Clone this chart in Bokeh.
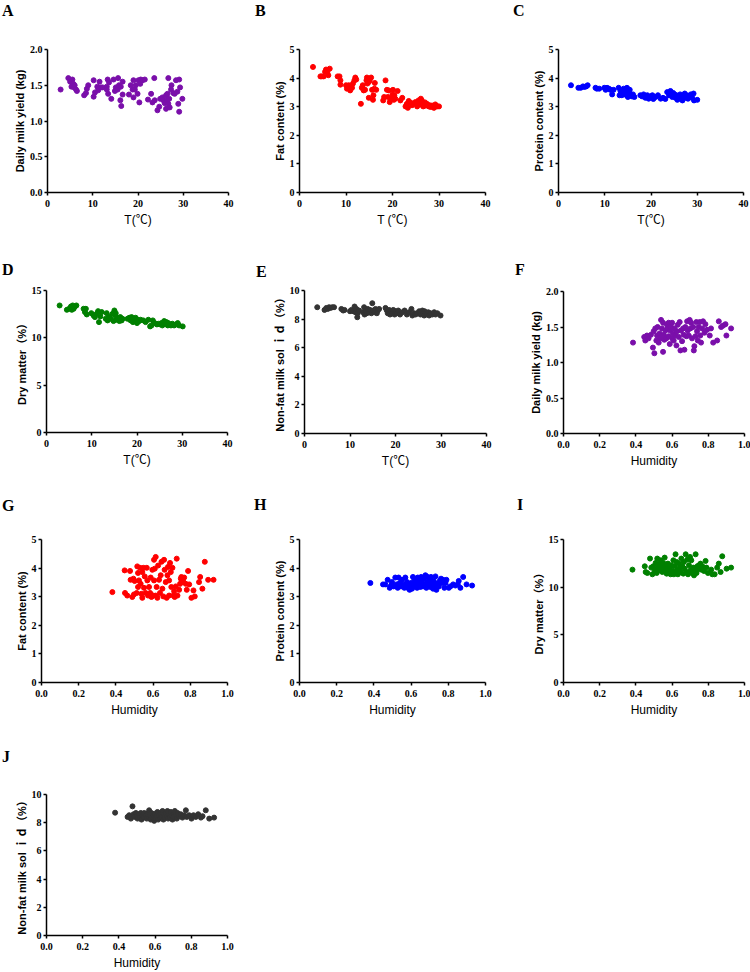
from bokeh.plotting import figure
from bokeh.layouts import row, column
from bokeh.models import Range1d, FixedTicker, Div
from bokeh.embed import file_html
from bokeh.resources import INLINE

# ---------------- data ----------------
# A: temperature vs daily milk yield
temp_a = [2.9,4.6,5.0,5.3,5.5,5.7,5.9,6.0,6.3,6.5,8.1,8.7,9.0,8.5,10.2,10.2,10.5,11.0,11.2,11.5,
          11.8,12.2,13.3,13.1,13.1,13.4,13.6,14.1,14.6,14.9,15.1,15.5,15.6,15.8,16.1,16.2,16.3,16.6,16.6,18.0,
          18.4,18.8,19.0,19.0,19.3,19.5,19.9,20.1,20.3,20.5,20.6,21.0,21.5,22.2,22.9,23.2,23.6,23.7,24.3,24.7,
          24.9,25.4,25.6,25.9,26.2,26.2,26.4,26.5,26.7,26.7,26.9,27.0,27.3,27.4,27.8,28.1,28.4,28.7,28.9,29.1,
          29.1,29.3,29.8]
yield_a = [1.44,1.60,1.55,1.48,1.58,1.52,1.47,1.50,1.44,1.42,1.36,1.45,1.50,1.39,1.57,1.34,1.40,1.48,1.43,1.55,
           1.47,1.47,1.58,1.48,1.44,1.38,1.54,1.31,1.58,1.42,1.47,1.44,1.60,1.50,1.29,1.48,1.21,1.37,1.55,1.37,
           1.50,1.44,1.57,1.33,1.44,1.50,1.38,1.57,1.26,1.52,1.58,1.57,1.58,1.30,1.38,1.26,1.60,1.29,1.15,1.20,
           1.31,1.33,1.29,1.25,1.36,1.17,1.29,1.38,1.60,1.24,1.31,1.19,1.44,1.50,1.39,1.38,1.57,1.41,1.24,1.13,
           1.58,1.47,1.31]
# B: temperature vs fat content
temp_b = [2.9,4.5,4.8,5.2,5.5,5.7,6.0,6.2,6.5,8.2,8.6,8.8,8.8,10.0,10.2,10.6,10.9,11.3,11.5,11.8,
          12.0,12.2,13.2,13.4,13.6,13.8,14.1,14.4,14.5,14.6,14.9,14.9,15.1,15.4,15.6,15.8,15.9,16.1,16.2,16.5,
          18.0,18.2,18.5,18.8,19.0,19.2,19.4,19.7,20.0,20.1,20.3,20.4,20.6,21.1,21.7,22.1,22.8,23.1,23.3,23.5,
          24.0,24.4,24.9,25.3,25.6,26.0,26.1,26.4,26.6,26.7,27.1,27.4,27.8,28.2,28.5,28.9,29.2,29.6,30.0,
          23.0,24.2,25.0,25.8,26.3,27.0,27.6,28.0,29.0,29.4]
fat_b = [4.39,4.06,4.06,4.06,4.22,4.30,4.22,4.10,4.33,4.06,4.06,3.92,3.77,3.75,3.63,3.75,3.57,3.66,3.81,3.92,
         4.02,3.95,3.10,3.66,3.75,3.57,3.59,3.92,4.02,3.81,3.86,3.31,3.92,4.02,3.59,3.24,3.40,3.63,3.83,3.59,
         3.22,3.34,3.92,3.59,3.34,3.57,3.16,3.28,3.43,3.59,3.24,3.40,3.28,3.55,3.22,3.31,3.01,3.10,2.96,3.20,
         3.13,3.10,3.16,3.01,3.22,3.08,3.28,3.16,3.01,3.10,3.04,3.10,3.01,2.99,3.04,2.96,3.08,3.01,3.01,
         3.05,3.05,3.12,3.12,3.22,3.15,3.05,3.05,2.98,3.04]
# C: temperature vs protein content
temp_c = [2.7,4.3,4.8,5.3,5.6,6.0,6.3,8.0,8.3,8.8,9.9,10.2,10.5,10.9,11.2,11.6,11.9,13.0,13.2,13.4,
          13.7,14.1,14.2,14.5,14.7,14.8,15.0,15.2,15.4,15.6,15.9,16.1,16.4,17.7,18.1,18.4,18.8,19.2,19.5,19.9,
          20.3,20.5,21.0,21.5,22.1,22.6,23.1,23.5,23.9,24.2,24.6,24.8,25.1,25.3,25.5,25.7,26.0,26.3,26.4,26.8,
          27.0,27.3,27.5,27.7,28.0,28.2,28.6,28.9,29.2,29.3,30.0]
protein_c = [3.75,3.66,3.66,3.71,3.69,3.71,3.75,3.66,3.63,3.63,3.66,3.59,3.66,3.63,3.59,3.43,3.59,3.66,3.40,3.55,
             3.40,3.63,3.46,3.55,3.40,3.66,3.34,3.51,3.59,3.43,3.36,3.43,3.34,3.40,3.36,3.43,3.31,3.40,3.28,3.36,
             3.40,3.27,3.34,3.40,3.28,3.31,3.27,3.51,3.40,3.55,3.34,3.48,3.43,3.31,3.40,3.24,3.34,3.43,3.28,3.22,
             3.36,3.46,3.31,3.40,3.28,3.36,3.43,3.31,3.46,3.22,3.24]
# D: temperature vs dry matter
temp_d = [2.9,4.5,5.0,5.4,5.6,5.8,6.0,6.3,6.6,8.2,8.5,8.7,8.9,9.9,10.4,10.7,11.1,11.4,11.6,11.9,
          12.2,13.1,13.3,13.5,13.8,14.2,14.6,14.8,15.0,15.2,15.3,15.5,15.8,16.1,16.3,16.6,16.8,17.9,18.3,18.6,
          18.8,19.1,19.4,19.7,20.0,20.1,20.5,20.8,21.4,21.9,22.5,22.9,23.2,23.5,23.9,24.4,24.7,25.1,25.4,25.6,
          26.0,26.2,26.5,26.8,26.9,27.1,27.5,27.8,28.2,28.6,29.0,29.3,30.1]
dm_d = [13.42,12.96,13.07,13.31,12.96,13.42,13.07,13.31,13.42,13.07,12.72,13.07,12.47,12.61,12.36,12.19,12.54,12.82,11.66,12.26,
        12.72,12.01,12.61,11.84,12.26,12.01,12.54,11.77,12.89,12.36,12.61,11.91,12.12,11.77,12.19,11.84,12.01,12.01,12.12,11.84,
        12.19,11.66,11.91,12.12,11.56,11.91,11.77,11.91,11.84,11.66,11.91,11.21,11.31,11.84,11.56,11.42,11.49,11.42,11.56,11.31,
        11.77,11.49,11.66,11.31,11.56,11.42,11.31,11.49,11.31,11.42,11.56,11.31,11.21]
# E: temperature vs non-fat milk solid
temp_e = [2.8,4.4,4.8,5.1,5.4,5.7,6.1,6.5,8.1,8.5,8.8,10.0,10.3,10.7,11.0,11.2,11.4,11.6,11.7,12.0,
          12.9,13.1,13.2,13.4,13.7,13.9,14.2,14.4,14.7,14.9,15.1,15.4,15.6,15.9,16.1,16.4,17.8,18.1,18.3,18.6,
          18.8,19.1,19.3,19.5,19.8,20.0,20.3,20.6,21.0,21.5,22.0,22.5,23.0,23.5,23.7,24.1,24.4,24.8,25.2,25.5,
          25.9,26.1,26.3,26.4,26.6,26.9,27.2,27.4,27.7,28.1,28.5,28.8,29.2,29.9]
snf_e = [8.83,8.64,8.78,8.71,8.83,8.78,8.83,8.83,8.71,8.60,8.64,8.55,8.64,8.55,8.88,8.48,8.71,8.13,8.41,8.60,
         8.48,8.83,8.32,8.60,8.41,8.71,8.48,8.64,8.41,9.11,8.60,8.48,8.71,8.41,8.60,8.71,8.78,8.60,8.41,8.64,
         8.32,8.55,8.41,8.64,8.32,8.55,8.41,8.60,8.32,8.48,8.60,8.32,8.48,8.71,8.25,8.41,8.32,8.41,8.55,8.32,
         8.60,8.41,8.25,8.55,8.41,8.32,8.48,8.25,8.41,8.32,8.48,8.32,8.41,8.25]
# F: humidity vs daily milk yield
hum_f = [0.384,0.446,0.452,0.461,0.470,0.483,0.494,0.498,0.502,0.507,0.513,0.517,0.520,0.526,0.531,0.535,0.539,0.544,0.550,0.550,
         0.554,0.557,0.563,0.568,0.572,0.576,0.581,0.581,0.587,0.590,0.594,0.600,0.600,0.605,0.609,0.613,0.618,0.624,0.627,0.631,
         0.637,0.642,0.646,0.649,0.655,0.661,0.664,0.668,0.673,0.679,0.683,0.686,0.692,0.697,0.701,0.705,0.710,0.716,0.720,0.723,
         0.729,0.734,0.738,0.742,0.747,0.753,0.756,0.760,0.766,0.771,0.779,0.784,0.793,0.808,0.815,0.827,0.849,0.858,0.871,0.882,
         0.895,0.900,0.926]
yield_f = [1.28,1.36,1.31,1.38,1.34,1.39,1.21,1.44,1.13,1.48,1.31,1.38,1.50,1.28,1.41,1.34,1.60,1.48,1.56,1.15,
           1.39,1.32,1.45,1.34,1.53,1.48,1.37,1.56,1.26,1.45,1.50,1.34,1.56,1.41,1.31,1.48,1.38,1.24,1.44,1.53,
           1.36,1.57,1.17,1.45,1.30,1.48,1.39,1.18,1.50,1.37,1.58,1.45,1.38,1.60,1.48,1.56,1.34,1.50,1.17,1.23,
           1.37,1.57,1.44,1.31,1.50,1.57,1.38,1.28,1.48,1.58,1.42,1.54,1.46,1.38,1.48,1.28,1.31,1.58,1.50,1.52,
           1.54,1.38,1.48]
# G: humidity vs fat content
hum_g = [0.381,0.447,0.449,0.461,0.476,0.479,0.488,0.494,0.497,0.501,0.512,0.515,0.519,0.519,0.524,0.530,0.533,0.537,0.542,0.542,
         0.548,0.551,0.555,0.560,0.566,0.569,0.573,0.578,0.584,0.587,0.591,0.596,0.601,0.605,0.605,0.609,0.614,0.614,0.619,0.623,
         0.627,0.632,0.637,0.641,0.645,0.650,0.655,0.659,0.662,0.668,0.673,0.677,0.680,0.686,0.686,0.691,0.695,0.698,0.704,0.709,
         0.713,0.716,0.722,0.727,0.731,0.740,0.745,0.749,0.752,0.758,0.763,0.767,0.776,0.781,0.788,0.794,0.806,0.817,0.824,0.847,
         0.853,0.865,0.878,0.896,0.925]
fat_g = [3.16,3.92,3.13,3.04,3.90,3.59,2.99,3.63,3.08,3.55,3.13,4.06,3.83,3.34,3.57,4.01,3.45,3.10,2.96,3.86,
         4.01,3.31,3.71,3.13,4.01,3.57,3.04,3.34,3.13,3.67,2.99,3.94,3.04,4.29,3.57,3.98,3.04,4.39,3.34,2.96,
         4.09,3.59,3.13,3.75,4.22,3.28,3.01,4.29,3.94,3.51,2.96,3.75,4.04,3.04,3.57,4.18,3.86,3.34,4.01,3.04,
         3.19,2.99,3.36,4.33,3.04,3.24,3.45,3.63,3.69,3.57,3.51,3.67,3.45,3.24,3.90,3.43,2.96,3.22,3.01,3.51,
         3.69,3.28,4.22,3.59,3.59]
# H: humidity vs protein content
hum_h = [0.381,0.449,0.461,0.474,0.485,0.492,0.497,0.506,0.515,0.521,0.528,0.533,0.539,0.546,0.551,0.557,0.564,0.569,0.575,0.578,
         0.582,0.587,0.592,0.596,0.600,0.605,0.610,0.614,0.618,0.623,0.628,0.632,0.636,0.641,0.646,0.650,0.654,0.659,0.664,0.668,
         0.671,0.677,0.682,0.686,0.689,0.695,0.700,0.704,0.707,0.713,0.718,0.722,0.725,0.731,0.736,0.740,0.749,0.754,0.761,0.767,
         0.772,0.779,0.785,0.790,0.803,0.811,0.826,0.838,0.851,0.856,0.865,0.880,0.898,0.928]
protein_h = [3.48,3.43,3.43,3.59,3.31,3.39,3.51,3.36,3.67,3.43,3.31,3.67,3.48,3.36,3.59,3.43,3.31,3.67,3.36,3.51,
             3.31,3.43,3.24,3.36,3.48,3.28,3.69,3.43,3.59,3.36,3.51,3.31,3.67,3.43,3.57,3.34,3.69,3.48,3.36,3.63,
             3.43,3.75,3.31,3.51,3.69,3.39,3.59,3.34,3.69,3.48,3.28,3.55,3.36,3.71,3.24,3.45,3.36,3.55,3.63,3.48,
             3.59,3.31,3.48,3.59,3.31,3.36,3.43,3.39,3.43,3.55,3.31,3.69,3.43,3.39]
# I: humidity vs dry matter
hum_i = [0.381,0.449,0.454,0.463,0.478,0.485,0.491,0.496,0.504,0.509,0.515,0.518,0.522,0.528,0.533,0.537,0.540,0.546,0.551,0.555,
         0.559,0.564,0.570,0.574,0.577,0.583,0.588,0.592,0.596,0.601,0.607,0.610,0.614,0.619,0.619,0.625,0.629,0.632,0.638,0.643,
         0.647,0.651,0.656,0.662,0.665,0.669,0.675,0.680,0.684,0.688,0.693,0.699,0.702,0.706,0.711,0.717,0.721,0.724,0.730,0.735,
         0.739,0.743,0.748,0.754,0.757,0.761,0.767,0.776,0.785,0.790,0.798,0.816,0.822,0.835,0.849,0.858,0.868,0.877,0.901,0.926]
dm_i = [11.84,12.19,11.59,11.49,13.00,12.05,11.35,12.19,11.77,12.54,11.49,13.00,12.05,12.40,11.77,12.82,12.19,11.59,12.54,11.94,
        13.10,12.19,11.42,11.84,12.47,11.59,12.05,11.35,12.29,11.70,12.82,11.35,12.19,13.45,11.59,12.64,11.84,11.35,12.47,12.05,
        11.59,13.00,12.19,11.42,12.64,11.94,13.45,11.59,12.89,11.35,12.29,13.17,11.77,12.82,11.49,12.05,11.24,11.77,13.45,11.49,
        12.19,11.94,12.29,12.05,12.47,11.84,12.19,11.70,12.75,12.05,11.49,11.84,11.35,11.35,12.05,12.47,11.59,13.24,11.94,12.05]
# J: humidity vs non-fat milk solid
hum_j = [0.379,0.448,0.457,0.466,0.475,0.481,0.488,0.494,0.499,0.503,0.512,0.517,0.521,0.525,0.530,0.536,0.540,0.543,0.549,0.554,
         0.558,0.567,0.567,0.573,0.576,0.580,0.586,0.591,0.595,0.599,0.604,0.610,0.613,0.617,0.622,0.628,0.632,0.635,0.641,0.646,
         0.650,0.654,0.659,0.665,0.668,0.672,0.678,0.683,0.687,0.691,0.696,0.702,0.705,0.709,0.715,0.720,0.724,0.733,0.742,0.751,
         0.761,0.770,0.775,0.788,0.801,0.812,0.825,0.838,0.853,0.862,0.880,0.899,0.926]
snf_j = [8.71,8.41,8.53,8.29,9.16,8.60,8.41,8.69,8.46,8.29,8.60,8.36,8.69,8.22,8.53,8.36,8.69,8.41,8.53,8.29,
         8.64,8.88,8.41,8.53,8.22,8.69,8.36,8.53,8.13,8.64,8.29,8.46,8.76,8.22,8.53,8.36,8.69,8.41,8.83,8.22,
         8.60,8.36,8.69,8.46,8.83,8.29,8.60,8.36,8.76,8.53,8.22,8.64,8.41,8.83,8.53,8.29,8.69,8.46,8.60,8.36,
         8.53,8.88,8.41,8.53,8.29,8.53,8.41,8.60,8.36,8.46,8.88,8.29,8.36]

# ticks
temp_ticks = [0, 10, 20, 30, 40]
temp_tick_labels = ["0", "10", "20", "30", "40"]
hum_ticks = [0.0, 0.2, 0.4, 0.6, 0.8, 1.0]
hum_tick_labels = ["0.0", "0.2", "0.4", "0.6", "0.8", "1.0"]
yield_ticks = [0.0, 0.5, 1.0, 1.5, 2.0]
yield_tick_labels = ["0.0", "0.5", "1.0", "1.5", "2.0"]
pct5_ticks = [0, 1, 2, 3, 4, 5]
pct5_tick_labels = ["0", "1", "2", "3", "4", "5"]
dm_ticks = [0, 5, 10, 15]
dm_tick_labels = ["0", "5", "10", "15"]
snf_ticks = [0, 2, 4, 6, 8, 10]
snf_tick_labels = ["0", "2", "4", "6", "8", "10"]

# titles
t_title_a = "T(℃)"
t_title_b = "T (℃)"
h_title = "Humidity"
y_yield = "Daily milk yield (kg)"
y_fat = "Fat content (%)"
y_protein = "Protein content (%)"
y_dm = "Dry matter（%）"
y_snf = "Non-fat milk sol ｉｄ（%）"

PURPLE = "#7A0FAA"
RED = "#FF0000"
BLUE = "#0000FF"
GREEN = "#008000"
GRAY = "#333333"

# ---------------- layout (page pixels; the page has no body margin) ----------------
COL_START = [0, 250, 500]
COL_W = [250, 250, 250]
ROW_START = [0, 240, 480, 720]
ROW_H = [240, 240, 240, 252]
LETTER_H = [22, 42, 36, 48]   # height of the strip holding the panel letters, per row

TEMP = (0, 40, temp_ticks, temp_tick_labels)
HUM = (0, 1, hum_ticks, hum_tick_labels)

panels = [
    # letter, row, col, frame(px), letter glyph top-left(px), x, y, color, xaxis, yaxis, xtitle, ytitle
    ("A", 0, 0, (47, 49, 228, 192), (2, 6), temp_a, yield_a, PURPLE, TEMP, (0, 2, yield_ticks, yield_tick_labels), t_title_a, y_yield),
    ("B", 0, 1, (299, 49, 485, 192), (255, 6), temp_b, fat_b, RED, TEMP, (0, 5, pct5_ticks, pct5_tick_labels), t_title_b, y_fat),
    ("C", 0, 2, (558, 49, 743, 192), (513, 6), temp_c, protein_c, BLUE, TEMP, (0, 5, pct5_ticks, pct5_tick_labels), t_title_a, y_protein),
    ("D", 1, 0, (46, 290, 227, 432), (2, 265), temp_d, dm_d, GREEN, TEMP, (0, 15, dm_ticks, dm_tick_labels), t_title_a, y_dm),
    ("E", 1, 1, (304, 290, 486, 433), (256, 267), temp_e, snf_e, GRAY, TEMP, (0, 10, snf_ticks, snf_tick_labels), t_title_a, y_snf),
    ("F", 1, 2, (563, 291, 744, 433), (515, 265), hum_f, yield_f, PURPLE, HUM, (0, 2, yield_ticks, yield_tick_labels), h_title, y_yield),
    ("G", 2, 0, (41, 539, 227, 682), (2, 501), hum_g, fat_g, RED, HUM, (0, 5, pct5_ticks, pct5_tick_labels), h_title, y_fat),
    ("H", 2, 1, (299, 539, 485, 682), (254, 500), hum_h, protein_h, BLUE, HUM, (0, 5, pct5_ticks, pct5_tick_labels), h_title, y_protein),
    ("I", 2, 2, (563, 539, 744, 682), (517, 500), hum_i, dm_i, GREEN, HUM, (0, 15, dm_ticks, dm_tick_labels), h_title, y_dm),
    ("J", 3, 0, (46, 794, 227, 937), (2, 752), hum_j, snf_j, GRAY, HUM, (0, 10, snf_ticks, snf_tick_labels), h_title, y_snf),
]

LABEL_FONT = "Liberation Sans, Noto Sans CJK SC"


def letter_div(letter, r, c, lpos):
    h = LETTER_H[r]
    w = COL_W[c]
    lx = max(0, lpos[0] - COL_START[c])
    ly = max(0, min(lpos[1] - ROW_START[r] - 4, h - 18))
    html = ('<div style="position:relative; left:%dpx; top:%dpx; margin:0; padding:0; '
            'font-family:\'Liberation Serif\', serif; font-weight:bold; font-size:16px; '
            'line-height:18px; color:black;">%s</div>' % (lx, ly, letter))
    return Div(text=html, width=w, height=h, margin=0)


def make_panel(spec):
    letter, r, c, frame, lpos, xs, ys, color, xax, yax, xtitle, ytitle = spec
    x0, y0, x1, y1 = frame
    left = x0 - COL_START[c]
    fw = x1 - x0
    right = COL_W[c] - left - fw
    top = y0 - ROW_START[r] - LETTER_H[r]
    fh = y1 - y0
    height = ROW_H[r] - LETTER_H[r]
    bottom = height - top - fh

    p = figure(width=COL_W[c], height=height, output_backend="svg", toolbar_location=None,
               x_range=Range1d(xax[0], xax[1]), y_range=Range1d(yax[0], yax[1]),
               min_border_left=left, min_border_right=right,
               min_border_top=top, min_border_bottom=bottom)
    p.outline_line_color = None
    p.xgrid.visible = False
    p.ygrid.visible = False
    p.background_fill_color = "white"
    p.border_fill_color = "white"

    p.scatter(xs, ys, size=5, marker="circle", fill_color=color, line_color=color)

    p.xaxis.ticker = FixedTicker(ticks=xax[2])
    p.xaxis.major_label_overrides = {t: l for t, l in zip(xax[2], xax[3])}
    p.yaxis.ticker = FixedTicker(ticks=yax[2])
    p.yaxis.major_label_overrides = {t: l for t, l in zip(yax[2], yax[3])}

    for ax in (p.xaxis[0], p.yaxis[0]):
        ax.axis_line_color = "black"
        ax.axis_line_width = 1.5
        ax.major_tick_line_color = "black"
        ax.major_tick_line_width = 1.5
        ax.major_tick_in = 0
        ax.major_tick_out = 3
        ax.minor_tick_in = 0
        ax.minor_tick_out = 0
        ax.major_label_text_font = "Liberation Serif"
        ax.major_label_text_font_style = "bold"
        ax.major_label_text_font_size = "10px"
        ax.major_label_text_color = "black"
        ax.axis_label_text_font = LABEL_FONT
        ax.axis_label_text_color = "black"
        ax.axis_label_text_font_size = "11px"

    p.xaxis.major_label_standoff = 4
    p.xaxis.axis_label_standoff = 3
    p.yaxis.major_label_standoff = 2
    p.yaxis.axis_label_standoff = 1

    p.xaxis.axis_label = xtitle
    p.xaxis.axis_label_text_font_style = "normal"
    p.xaxis.axis_label_text_font_size = "12px"
    p.yaxis.axis_label = ytitle
    p.yaxis.axis_label_text_font_style = "bold"

    return column(letter_div(letter, r, c, lpos), p)


cells = [make_panel(s) for s in panels]
layout = column(
    row(cells[0], cells[1], cells[2]),
    row(cells[3], cells[4], cells[5]),
    row(cells[6], cells[7], cells[8]),
    row(cells[9]),
)

open("out.html", "w").write(file_html(layout, INLINE))
